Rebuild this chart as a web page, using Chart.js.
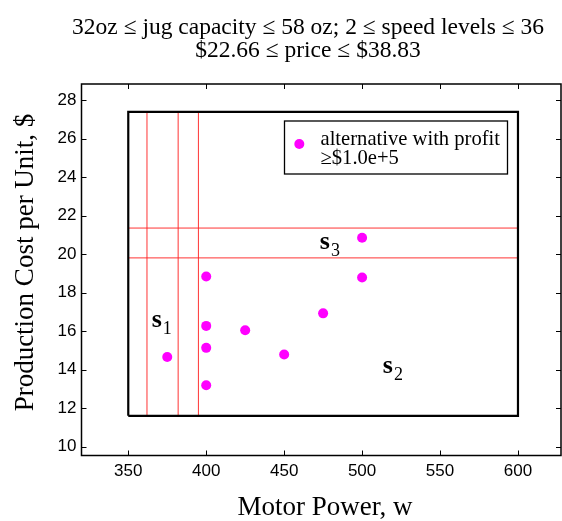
<!DOCTYPE html>
<html>
<head>
<meta charset="utf-8">
<script src="https://cdn.jsdelivr.net/npm/chart.js@4.4.0/dist/chart.umd.min.js"></script>
<style>
    body { margin: 0; background: #fff; }
</style>
</head>
<body>
<canvas id="chart" width="562" height="521"></canvas>
<script>
'use strict'

// alternatives: motor power (w) and production cost per unit ($)
const motorPower = [375, 400, 400, 400, 400, 425, 450, 475, 500, 500];
const unitCost = [14.65, 13.19, 15.13, 16.27, 18.83, 16.04, 14.78, 16.92, 18.78, 20.85];

// feasible box and the cutting lines inside it
const regionPower = [350, 600];
const regionCost = [11.6, 27.38];
const cutPower = [362, 382, 395];
const cutCost = [19.8, 21.35];

const xTicks = [350, 400, 450, 500, 550, 600];
const yTicks = [10, 12, 14, 16, 18, 20, 22, 24, 26, 28];

const titleLines = ['32oz \u2264 jug capacity \u2264 58 oz; 2 \u2264 speed levels \u2264 36', '$22.66 \u2264 price \u2264 $38.83'];
const legendLines = ['alternative with profit', '\u2265$1.0e+5'];
const xTitle = 'Motor Power, w';
const yTitle = 'Production Cost per Unit, $';

// region names s1, s2, s3 and where they sit (data units)
const regionSubs = ['1', '2', '3'];
const regionAtPower = [365, 513.3, 472.9];
const regionAtCost = [16.2, 13.83, 20.26];

document.addEventListener('DOMContentLoaded', () => {
    const serif = 'Liberation Serif';
    const sans = 'Liberation Sans';

    const points = motorPower.map((p, i) => ({x: p, y: unitCost[i]}));

    const box = [
        {x: regionPower[0], y: regionCost[0]},
        {x: regionPower[1], y: regionCost[0]},
        {x: regionPower[1], y: regionCost[1]},
        {x: regionPower[0], y: regionCost[1]},
        {x: regionPower[0], y: regionCost[0]}
    ];

    const cuts = [];
    for (let p of cutPower) {
        cuts.push({x: p, y: regionCost[0]}, {x: p, y: regionCost[1]}, {x: p, y: null});
    };
    for (let c of cutCost) {
        cuts.push({x: regionPower[0], y: c}, {x: regionPower[1], y: c}, {x: regionPower[1], y: null});
    };

    const decor = {
        id: 'decor',
        beforeDraw(chart) {
            const ctx = chart.ctx;
            ctx.save();
            ctx.fillStyle = '#fff';
            ctx.fillRect(0, 0, chart.width, chart.height);
            ctx.restore();
        },
        afterDraw(chart) {
            const ctx = chart.ctx;
            const a = chart.chartArea;
            const xs = chart.scales.x;
            const ys = chart.scales.y;
            ctx.save();

            // axes frame with inward ticks
            ctx.strokeStyle = '#000';
            ctx.lineWidth = 1.5;
            ctx.strokeRect(a.left, a.top, a.right - a.left, a.bottom - a.top);
            ctx.lineWidth = 1;
            ctx.beginPath();
            for (let v of xTicks) {
                const px = Math.round(xs.getPixelForValue(v)) + 0.5;
                ctx.moveTo(px, a.bottom); ctx.lineTo(px, a.bottom - 5);
                ctx.moveTo(px, a.top); ctx.lineTo(px, a.top + 5);
            };
            for (let v of yTicks) {
                const py = Math.round(ys.getPixelForValue(v)) + 0.5;
                ctx.moveTo(a.left, py); ctx.lineTo(a.left + 5, py);
                ctx.moveTo(a.right, py); ctx.lineTo(a.right - 5, py);
            };
            ctx.stroke();

            // titles
            ctx.fillStyle = '#000';
            ctx.textAlign = 'center';
            ctx.textBaseline = 'alphabetic';
            ctx.font = `23.5px "${serif}"`;
            ctx.fillText(titleLines[0], 308, 33.5);
            ctx.fillText(titleLines[1], 308, 56.5);

            ctx.font = `27px "${serif}"`;
            ctx.fillText(xTitle, 325, 515);
            ctx.save();
            ctx.translate(33, 262.5);
            ctx.rotate(-Math.PI / 2);
            ctx.fillText(yTitle, 0, 0);
            ctx.restore();

            // legend
            ctx.lineWidth = 1.3;
            ctx.strokeRect(284.5, 121, 223, 53);
            ctx.fillStyle = '#ff00ff';
            ctx.beginPath();
            ctx.arc(299.3, 144, 5, 0, Math.PI * 2);
            ctx.fill();
            ctx.fillStyle = '#000';
            ctx.textAlign = 'left';
            ctx.font = `20.6px "${serif}"`;
            ctx.fillText(legendLines[0], 320.5, 145);
            ctx.fillText(legendLines[1], 320.5, 163.5);

            // region names
            regionSubs.forEach((sub, i) => {
                const px = xs.getPixelForValue(regionAtPower[i]);
                const py = ys.getPixelForValue(regionAtCost[i]);
                ctx.font = `bold 26px "${serif}"`;
                ctx.fillText('s', px, py);
                const w = ctx.measureText('s').width;
                ctx.font = `18px "${serif}"`;
                ctx.fillText(sub, px + w + 1, py + 7);
            });

            ctx.restore();
        }
    };

    new Chart(document.getElementById('chart'), {
        type: 'scatter',
        data: {
            datasets: [{
                label: legendLines.join(' '),
                data: points,
                pointRadius: 5,
                pointHoverRadius: 5,
                backgroundColor: '#ff00ff',
                borderWidth: 0
            }, {
                data: box,
                showLine: true,
                pointRadius: 0,
                borderColor: '#000',
                borderWidth: 2.2
            }, {
                data: cuts,
                showLine: true,
                spanGaps: false,
                pointRadius: 0,
                borderColor: 'rgba(255, 30, 30, 0.9)',
                borderWidth: 1
            }]
        },
        options: {
            responsive: false,
            animation: false,
            devicePixelRatio: 1,
            layout: {
                autoPadding: false,
                padding: {top: 84, right: 1, left: 0, bottom: 0}
            },
            plugins: {
                legend: {display: false},
                tooltip: {enabled: false}
            },
            scales: {
                x: {
                    type: 'linear',
                    min: 320,
                    max: 627.6,
                    afterBuildTicks: (s) => { s.ticks = xTicks.map((v) => ({value: v})); },
                    afterFit: (s) => {
                        s.height = 65.5;
                        s.paddingLeft = 0;
                        s.paddingRight = 0;
                    },
                    grid: {display: false, drawTicks: false},
                    border: {display: false},
                    ticks: {
                        color: '#000',
                        font: {family: sans, size: 17},
                        padding: 6,
                        maxRotation: 0,
                        autoSkip: false
                    }
                },
                y: {
                    type: 'linear',
                    min: 9.54,
                    max: 28.83,
                    afterBuildTicks: (s) => { s.ticks = yTicks.map((v) => ({value: v})); },
                    afterFit: (s) => {
                        s.width = 81.5;
                        s.paddingTop = 0;
                        s.paddingBottom = 0;
                    },
                    grid: {display: false, drawTicks: false},
                    border: {display: false},
                    ticks: {
                        color: '#000',
                        font: {family: sans, size: 17},
                        padding: 5
                    }
                }
            }
        },
        plugins: [decor]
    });
});
</script>
</body>
</html>
